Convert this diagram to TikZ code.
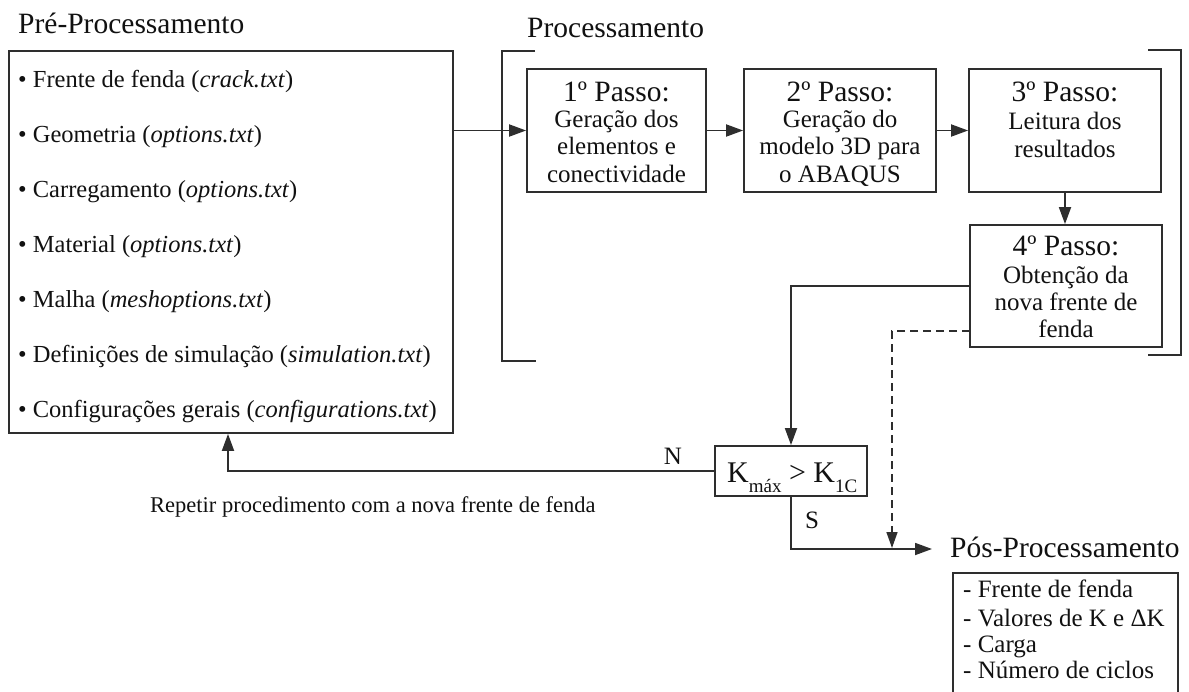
\documentclass[tikz,border=0pt]{standalone}
\usepackage{fontspec}
\setmainfont{Liberation Serif}
\usetikzlibrary{arrows.meta}
\definecolor{ln}{HTML}{2E2E2E}
\definecolor{tx}{HTML}{111111}
\tikzset{
  box/.style={draw=ln, line width=1.8pt, inner sep=0pt},
  conn/.style={draw=ln, line width=1.8pt},
  arr/.style={conn, -{Triangle[length=17pt,width=12pt]}},
  dasharr/.style={conn, line width=1.5pt, dash pattern=on 8pt off 5pt, -{Triangle[length=16pt,width=11pt]}},
  ttl/.style={font=\fontsize{29.5}{30}\selectfont, text=tx, inner sep=0pt, anchor=base west},
  itm/.style={font=\fontsize{24.5}{26}\selectfont, text=tx, inner sep=0pt, anchor=base west},
  stp/.style={font=\fontsize{29.5}{30}\selectfont, text=tx, inner sep=0pt, anchor=base},
  sml/.style={font=\fontsize{25}{26}\selectfont, text=tx, inner sep=0pt, anchor=base},
}
\newcommand{\subtx}[1]{\raisebox{-10pt}{\fontsize{19}{20}\selectfont #1}}
\begin{document}
\begin{tikzpicture}[x=1pt,y=-1pt]
\useasboundingbox (0,0) rectangle (1189,691);
\clip (0,0) rectangle (1189,691);

% Pre-processing
\node[ttl] (pretitle) at (18,33) {Pré-Processamento};
\node[box, minimum width=444pt, minimum height=382pt] (pre) at (231,242) {};
\node[itm] (i1) at (18,87) {• Frente de fenda (\textit{crack.txt})};
\node[itm] (i2) at (18,142) {• Geometria (\textit{options.txt})};
\node[itm] (i3) at (18,197) {• Carregamento (\textit{options.txt})};
\node[itm] (i4) at (18,252) {• Material (\textit{options.txt})};
\node[itm] (i5) at (18,307) {• Malha (\textit{meshoptions.txt})};
\node[itm] (i6) at (18,362) {• Definições de simulação (\textit{simulation.txt})};
\node[itm] (i7) at (18,417) {• Configurações gerais (\textit{configurations.txt})};

% Processing
\node[ttl] (proctitle) at (527,37) {Processamento};
\draw[conn] (535,51) -- (502,51) -- (502,361) -- (536,361);
\draw[conn] (1148,50) -- (1181,50) -- (1181,355) -- (1148,355);

\node[box, minimum width=179pt, minimum height=123pt] (b1) at (616.5,130.5) {};
\node[stp] (b1a) at (616.5,101) {1º Passo:};
\node[sml] (b1b) at (616.5,127) {Geração dos};
\node[sml] (b1c) at (616.5,154) {elementos e};
\node[sml] (b1d) at (616.5,182) {conectividade};

\node[box, minimum width=192pt, minimum height=123pt] (b2) at (840,130.5) {};
\node[stp] (b2a) at (840,101) {2º Passo:};
\node[sml] (b2b) at (840,127) {Geração do};
\node[sml] (b2c) at (840,154) {modelo 3D para};
\node[sml] (b2d) at (840,182) {o ABAQUS};

\node[box, minimum width=192pt, minimum height=123pt] (b3) at (1065,130.5) {};
\node[stp] (b3a) at (1065,101) {3º Passo:};
\node[sml] (b3b) at (1065,129) {Leitura dos};
\node[sml] (b3c) at (1065,157) {resultados};

\node[box, minimum width=192pt, minimum height=122pt] (b4) at (1066,286) {};
\node[stp] (b4a) at (1066,255) {4º Passo:};
\node[sml] (b4b) at (1066,283) {Obtenção da};
\node[sml] (b4c) at (1066,310) {nova frente de};
\node[sml] (b4d) at (1066,337) {fenda};

% Decision
\node[box, minimum width=152pt, minimum height=50pt] (kb) at (791,471) {};
\node[font=\fontsize{30}{30}\selectfont, text=tx, inner sep=0pt, anchor=base west] (kt) at (727,482)
  {K\subtx{máx} > K\subtx{1C}};
\node[sml] (nl) at (673,464) {N};
\node[sml] (sl) at (812,528) {S};
\node[itm, font=\fontsize{22.5}{24}\selectfont] (rep) at (150,512) {Repetir procedimento com a nova frente de fenda};

% Post-processing
\node[ttl] (pp) at (950,557) {Pós-Processamento};
\node[box, minimum width=225pt, minimum height=147pt] (post) at (1065.5,646.5) {};
\node[itm, font=\fontsize{25}{26}\selectfont] (p1) at (963,597) {- Frente de fenda};
\node[itm, font=\fontsize{25}{26}\selectfont] (p2) at (963,626) {- Valores de K e ΔK};
\node[itm, font=\fontsize{25}{26}\selectfont] (p3) at (963,652) {- Carga};
\node[itm, font=\fontsize{25}{26}\selectfont] (p4) at (963,678) {- Número de ciclos};

% Coordinates for free ends
\coordinate (dstart) at (970,331);
\coordinate (dend) at (892,548);
\coordinate (send) at (932,549);

% Connectors
\draw[arr] (pre.east |- b1.west) -- (b1.west);
\draw[arr] (b1.east) -- (b2.west);
\draw[arr] (b2.east) -- (b3.west);
\draw[arr] (b3.south) -- (b3.south |- b4.north);
\draw[arr] (b4.west) -| (kb.north);
\draw[dasharr] (dstart) -| (dend);
\draw[arr] (kb.south) |- (send);
\draw[arr] (kb.west) -| ([xshift=-3pt]pre.south);
\end{tikzpicture}
\end{document}
